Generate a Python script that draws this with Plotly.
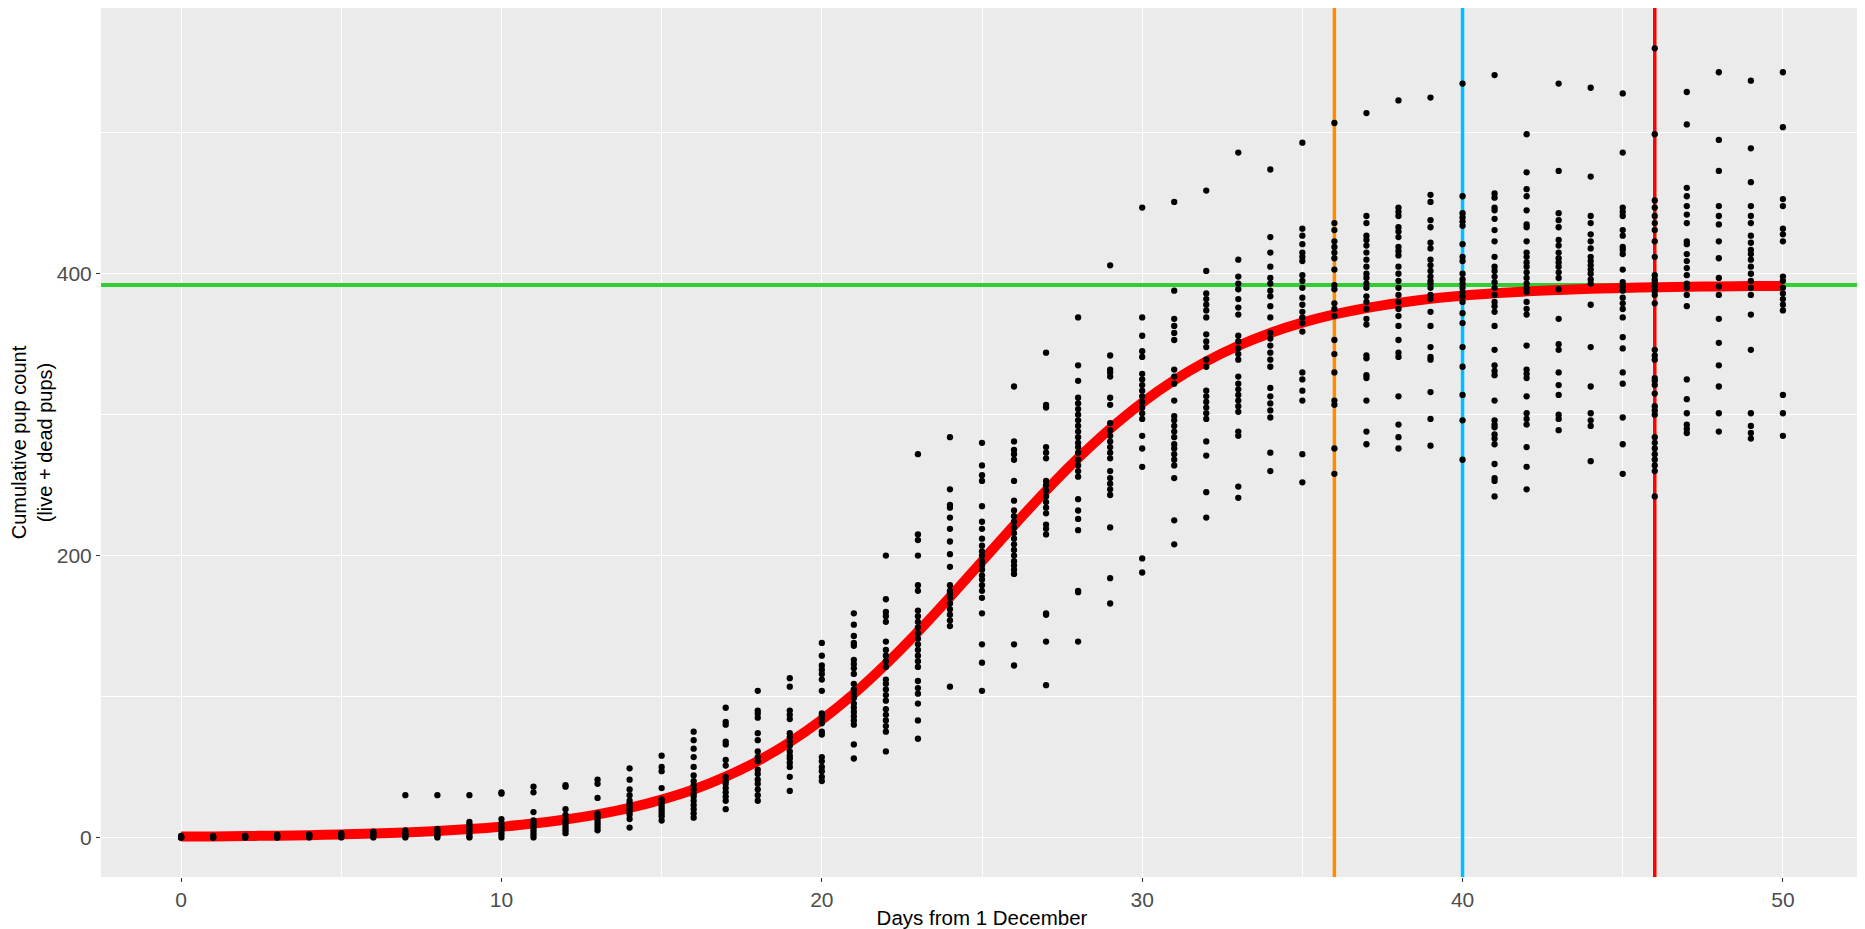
import plotly.graph_objects as go

# ---- data ----
days = list(range(51))

counts_by_day = [
    [0, 0, 0, 0, 1],                                   # 0
    [0, 0, 0, 1],                                      # 1
    [0, 0, 1, 1],                                      # 2
    [0, 0, 1, 2],                                      # 3
    [0, 1, 1, 2, 2],                                   # 4
    [0, 1, 2, 3],                                      # 5
    [0, 1, 2, 3, 4],                                   # 6
    [0, 1, 2, 3, 5, 30],                               # 7
    [0, 1, 2, 4, 6, 30],                               # 8
    [0, 1, 3, 5, 7, 9, 11, 30],                        # 9
    [0, 2, 4, 6, 8, 10, 13, 31, 32],                   # 10
    [0, 2, 4, 6, 8, 10, 12, 18, 32, 36],               # 11
    [3, 5, 7, 9, 11, 13, 16, 20, 36, 37],              # 12
    [5, 7, 9, 11, 13, 15, 17, 28, 38, 41],             # 13
    [7, 13, 16, 18, 20, 22, 24, 26, 30, 34, 41, 49],   # 14
    [12, 15, 17, 19, 21, 23, 25, 27, 35, 47, 50, 58],  # 15
    [14, 17, 20, 23, 26, 29, 31, 34, 37, 40, 44, 50, 57, 63, 69, 75],
    [20, 26, 29, 32, 35, 38, 40, 43, 51, 55, 66, 68, 80, 82, 92],
    [26, 30, 34, 38, 41, 45, 48, 54, 57, 61, 69, 74, 85, 88, 90, 104],
    [33, 43, 50, 53, 56, 58, 61, 65, 68, 71, 74, 84, 87, 90, 107, 113],
    [40, 43, 47, 50, 54, 57, 73, 75, 81, 84, 86, 88, 104, 112, 116, 119, 122, 129, 138],
    [56, 66, 80, 83, 86, 89, 92, 95, 99, 102, 105, 109, 116, 120, 123, 126, 136, 138, 143, 151, 159],
    [61, 75, 79, 83, 87, 91, 97, 101, 105, 109, 112, 121, 125, 129, 133, 139, 153, 157, 160, 169, 200],
    [70, 83, 95, 102, 106, 111, 121, 125, 129, 133, 137, 141, 145, 149, 153, 157, 161, 175, 179, 200, 211, 215, 272],
    [107, 150, 154, 158, 162, 166, 170, 173, 175, 179, 192, 201, 210, 219, 227, 234, 236, 247, 284],
    [104, 124, 137, 159, 170, 175, 179, 183, 186, 190, 193, 196, 200, 203, 207, 212, 219, 224, 235, 253, 257, 264, 280],
    [122, 137, 187, 190, 193, 196, 200, 204, 208, 212, 216, 220, 224, 228, 232, 239, 253, 268, 272, 275, 281, 320],
    [108, 139, 158, 159, 215, 219, 222, 230, 234, 238, 242, 246, 250, 253, 269, 273, 277, 305, 307, 344],
    [139, 174, 175, 218, 226, 232, 240, 256, 260, 264, 268, 273, 277, 280, 284, 288, 292, 296, 300, 304, 308, 312, 324, 335, 369],
    [166, 184, 220, 243, 247, 251, 255, 260, 269, 273, 277, 281, 285, 289, 294, 307, 312, 327, 330, 332, 342, 406],
    [188, 198, 263, 276, 285, 297, 301, 305, 309, 313, 317, 321, 325, 329, 341, 345, 356, 369, 447],
    [208, 225, 255, 264, 268, 272, 276, 279, 284, 288, 292, 296, 299, 310, 322, 327, 332, 353, 358, 363, 368, 388, 451],
    [227, 245, 271, 281, 297, 301, 305, 309, 313, 317, 334, 339, 348, 352, 357, 369, 374, 378, 382, 386, 402, 459],
    [241, 249, 285, 288, 302, 306, 310, 314, 318, 322, 327, 339, 343, 347, 352, 356, 371, 376, 382, 389, 393, 398, 410, 486],
    [260, 273, 298, 303, 308, 313, 319, 334, 339, 344, 349, 354, 358, 369, 377, 384, 388, 393, 397, 405, 415, 426, 474],
    [252, 272, 310, 317, 325, 330, 359, 365, 369, 373, 378, 383, 390, 395, 399, 409, 412, 415, 421, 427, 432, 493],
    [258, 276, 307, 310, 330, 343, 353, 370, 375, 379, 389, 392, 403, 411, 415, 419, 423, 431, 436, 507],
    [279, 288, 310, 326, 328, 340, 342, 364, 368, 375, 380, 384, 390, 393, 397, 400, 405, 410, 415, 420, 424, 427, 436, 441, 514],
    [276, 284, 293, 313, 341, 344, 353, 363, 370, 375, 380, 385, 390, 395, 400, 405, 413, 416, 419, 426, 430, 433, 441, 444, 447, 523],
    [278, 297, 316, 339, 341, 348, 363, 373, 382, 385, 390, 393, 395, 398, 402, 406, 410, 418, 422, 433, 438, 451, 456, 525],
    [268, 296, 314, 334, 348, 365, 372, 380, 384, 387, 390, 393, 396, 400, 409, 412, 421, 434, 437, 440, 443, 455, 535],
    [242, 253, 255, 265, 279, 283, 286, 291, 293, 296, 310, 328, 331, 335, 346, 363, 373, 377, 380, 385, 390, 394, 398, 402, 405, 412, 423, 431, 439, 445, 447, 454, 457, 541],
    [247, 263, 277, 293, 297, 301, 313, 326, 329, 332, 349, 371, 375, 380, 387, 390, 393, 397, 401, 405, 408, 412, 415, 423, 433, 435, 445, 455, 460, 472, 499],
    [289, 297, 300, 314, 321, 330, 346, 350, 368, 389, 397, 401, 405, 408, 411, 415, 420, 424, 433, 438, 443, 473, 535],
    [267, 292, 296, 301, 320, 348, 378, 393, 396, 400, 403, 406, 409, 412, 418, 423, 428, 436, 441, 469, 532],
    [258, 279, 298, 322, 330, 347, 355, 369, 375, 379, 383, 388, 391, 394, 403, 414, 417, 419, 427, 431, 441, 444, 447, 486, 528],
    [242, 260, 264, 268, 272, 276, 280, 284, 300, 303, 306, 315, 321, 324, 326, 339, 342, 346, 379, 385, 388, 391, 394, 396, 399, 412, 423, 431, 436, 441, 447, 452, 499, 560],
    [287, 290, 293, 301, 311, 325, 377, 385, 390, 393, 399, 404, 409, 414, 421, 423, 436, 442, 448, 455, 461, 506, 529],
    [288, 301, 320, 335, 351, 368, 385, 391, 397, 411, 423, 435, 441, 448, 473, 495, 543],
    [283, 287, 292, 301, 346, 371, 385, 390, 395, 400, 405, 410, 414, 417, 422, 427, 436, 441, 448, 465, 489, 537],
    [285, 301, 314, 374, 378, 382, 386, 390, 395, 398, 423, 428, 432, 448, 453, 504, 543],
]

# fitted curve, read at each day
curve_values = [
    0.6, 0.7, 1.0, 1.2, 1.6, 2.1, 2.7, 3.5, 4.6, 5.9,
    7.6, 9.8, 12.7, 16.3, 20.9, 26.8, 34.0, 43.1, 54.2, 67.6,
    83.5, 101.9, 122.9, 145.9, 170.5, 196.0, 221.5, 246.1, 269.1, 290.0,
    308.5, 324.4, 337.8, 348.9, 358.0, 365.3, 371.1, 375.7, 379.3, 382.2,
    384.4, 386.1, 387.5, 388.5, 389.3, 389.9, 390.4, 390.8, 391.0, 391.3, 391.4,
]

asymptote = 392
marker_days = [36, 40, 46]
marker_colors = ["#FF8C00", "#00BFFF", "#FF0000"]

x_ticks = [0, 10, 20, 30, 40, 50]
y_ticks = [0, 200, 400]
x_range = [-2.5, 52.5]
y_range = [-28.1, 588.6]

# ---- build ----
obs_x = [d for d, vals in zip(days, counts_by_day) for _ in vals]
obs_y = [v for vals in counts_by_day for v in vals]

fig = go.Figure()

# reference lines (drawn under the points)
fig.add_trace(go.Scatter(
    x=x_range, y=[asymptote, asymptote], mode="lines",
    line=dict(color="#32CD32", width=4),
    hoverinfo="skip", showlegend=False, cliponaxis=True,
))
for d, c in zip(marker_days, marker_colors):
    fig.add_trace(go.Scatter(
        x=[d, d], y=y_range, mode="lines",
        line=dict(color=c, width=3.5),
        hoverinfo="skip", showlegend=False,
    ))

fig.add_trace(go.Scatter(
    x=days, y=curve_values, mode="lines",
    line=dict(color="#FF0000", width=10, shape="spline"),
    hoverinfo="skip", showlegend=False,
))
fig.add_trace(go.Scatter(
    x=obs_x, y=obs_y, mode="markers",
    marker=dict(color="black", size=6.3, line=dict(width=0)),
    showlegend=False,
))

font_family = "Liberation Sans, Arial, sans-serif"

# page body has an 8px margin: the figure is sized to end at the window edge
fig.update_layout(
    width=1857, height=921,
    margin=dict(l=93, r=2, t=0, b=52),
    paper_bgcolor="white",
    plot_bgcolor="#EBEBEB",
    font=dict(family=font_family, color="black"),
    xaxis=dict(
        range=x_range,
        tickvals=x_ticks,
        ticks="outside", ticklen=4, tickcolor="#333333", tickwidth=1,
        tickfont=dict(size=21, color="#4D4D4D", family=font_family),
        showgrid=True, gridcolor="white", gridwidth=1.3,
        minor=dict(dtick=5, tick0=0, showgrid=True, gridcolor="white", gridwidth=0.8),
        zeroline=False, showline=False,
        title=dict(text="Days from 1 December",
                   font=dict(size=20.5, color="black", family=font_family),
                   standoff=4),
        automargin=False,
    ),
    yaxis=dict(
        range=y_range,
        tickvals=y_ticks,
        ticks="outside", ticklen=4, tickcolor="#333333", tickwidth=1,
        tickfont=dict(size=21, color="#4D4D4D", family=font_family),
        showgrid=True, gridcolor="white", gridwidth=1.3,
        minor=dict(dtick=100, tick0=0, showgrid=True, gridcolor="white", gridwidth=0.8),
        zeroline=False, showline=False,
        title=dict(text="Cumulative pup count<br>(live + dead pups)",
                   font=dict(size=20, color="black", family=font_family),
                   standoff=3),
        automargin=False,
    ),
)

fig.write_html("out.html")
